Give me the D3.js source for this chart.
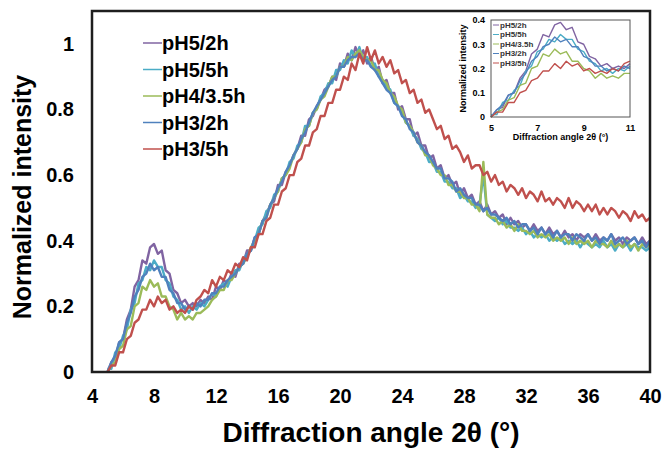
<!DOCTYPE html>
<html>
<head>
<meta charset="utf-8">
<script src="https://cdn.jsdelivr.net/npm/d3@7/dist/d3.min.js"></script>
<style>
  body { margin: 0; background: #fff; }
  text { font-family: "Liberation Sans", Arial, sans-serif; font-weight: bold; fill: #000; }
</style>
</head>
<body>
<svg id="chart" width="662" height="449"></svg>
<script>
// scan grid: 5 to 40 deg in 0.25 deg steps (one group of 4 below = one degree)
var angleStart = 5, angleStep = 0.25;

var xTicks = [4, 8, 12, 16, 20, 24, 28, 32, 36, 40];
var yTicks = [0, 0.2, 0.4, 0.6, 0.8, 1];
var insetXTicks = [5, 7, 9, 11];
var insetYTicks = [0, 0.1, 0.2, 0.3, 0.4];

var seriesNames = ["pH5/2h", "pH5/5h", "pH4/3.5h", "pH3/2h", "pH3/5h"];
var seriesColors = ["#8064A2", "#4BACC6", "#9BBB59", "#4F81BD", "#C0504D"];

var pH5_2h = [
  0.00,0.03,0.04,0.09, 0.10,0.16,0.19,0.26, 0.28,0.34,0.33,0.38, 0.39,0.36,0.37,0.31,
  0.30,0.25,0.24,0.21, 0.22,0.20,0.21,0.20, 0.22,0.21,0.23,0.22, 0.26,0.25,0.28,0.27,
  0.30,0.29,0.33,0.33, 0.37,0.37,0.41,0.42, 0.46,0.48,0.51,0.52, 0.57,0.57,0.61,0.63,
  0.66,0.68,0.72,0.72, 0.77,0.78,0.81,0.83, 0.86,0.87,0.90,0.89, 0.94,0.93,0.97,0.95,
  0.99,0.96,0.98,0.94, 0.96,0.92,0.93,0.88, 0.89,0.85,0.85,0.80, 0.81,0.77,0.77,0.72,
  0.73,0.69,0.69,0.65, 0.66,0.62,0.63,0.59, 0.60,0.57,0.58,0.54, 0.56,0.53,0.54,0.51,
  0.52,0.49,0.51,0.48, 0.49,0.47,0.48,0.45, 0.47,0.45,0.46,0.44, 0.45,0.43,0.45,0.43,
  0.44,0.42,0.44,0.42, 0.43,0.41,0.43,0.41, 0.42,0.40,0.42,0.41, 0.42,0.40,0.42,0.40,
  0.41,0.40,0.42,0.40, 0.41,0.39,0.41,0.40, 0.41,0.39,0.41,0.39, 0.40
];
var pH5_5h = [
  0.01,0.01,0.06,0.07, 0.11,0.13,0.19,0.21, 0.27,0.28,0.32,0.31, 0.34,0.32,0.32,0.28,
  0.27,0.23,0.22,0.19, 0.20,0.18,0.20,0.19, 0.21,0.20,0.22,0.24, 0.23,0.26,0.27,0.26,
  0.29,0.31,0.31,0.34, 0.36,0.37,0.40,0.44, 0.45,0.49,0.50,0.54, 0.55,0.59,0.60,0.64,
  0.65,0.69,0.70,0.75, 0.75,0.79,0.80,0.84, 0.85,0.88,0.88,0.92, 0.92,0.95,0.94,0.98,
  0.96,0.99,0.95,0.96, 0.93,0.94,0.90,0.89, 0.87,0.86,0.82,0.81, 0.79,0.76,0.75,0.72,
  0.71,0.68,0.67,0.64, 0.64,0.61,0.61,0.58, 0.58,0.56,0.56,0.53, 0.54,0.52,0.52,0.50,
  0.51,0.60,0.48,0.47, 0.46,0.47,0.45,0.46, 0.44,0.44,0.43,0.44, 0.42,0.43,0.41,0.42,
  0.41,0.42,0.40,0.41, 0.40,0.41,0.39,0.40, 0.39,0.40,0.38,0.40, 0.39,0.38,0.39,0.38,
  0.40,0.38,0.39,0.37, 0.39,0.38,0.39,0.37, 0.39,0.38,0.38,0.37, 0.38
];
var pH4_35h = [
  0.00,0.02,0.03,0.07, 0.08,0.13,0.14,0.20, 0.21,0.26,0.25,0.28, 0.26,0.27,0.23,0.23,
  0.20,0.19,0.16,0.18, 0.16,0.17,0.16,0.18, 0.18,0.19,0.20,0.22, 0.23,0.25,0.25,0.28,
  0.28,0.30,0.32,0.33, 0.35,0.38,0.40,0.42, 0.46,0.47,0.51,0.53, 0.55,0.59,0.60,0.62,
  0.66,0.68,0.70,0.74, 0.75,0.79,0.80,0.83, 0.84,0.87,0.90,0.90, 0.93,0.93,0.96,0.95,
  0.97,0.98,0.96,0.95, 0.95,0.92,0.92,0.89, 0.88,0.85,0.84,0.81, 0.80,0.76,0.75,0.73,
  0.70,0.69,0.66,0.66, 0.63,0.62,0.60,0.60, 0.57,0.57,0.55,0.55, 0.53,0.53,0.51,0.51,
  0.49,0.64,0.48,0.47, 0.47,0.45,0.46,0.44, 0.45,0.43,0.45,0.43, 0.43,0.42,0.43,0.41,
  0.42,0.41,0.42,0.40, 0.41,0.40,0.41,0.39, 0.41,0.39,0.40,0.39, 0.40,0.38,0.40,0.39,
  0.39,0.38,0.40,0.38, 0.39,0.38,0.40,0.38, 0.39,0.37,0.39,0.38, 0.39
];
var pH3_2h = [
  0.00,0.03,0.05,0.09, 0.10,0.15,0.18,0.23, 0.25,0.29,0.30,0.33, 0.31,0.32,0.29,0.29,
  0.25,0.24,0.21,0.21, 0.19,0.20,0.19,0.21, 0.20,0.22,0.22,0.24, 0.24,0.26,0.26,0.28,
  0.29,0.30,0.32,0.33, 0.36,0.37,0.41,0.42, 0.46,0.47,0.51,0.53, 0.56,0.58,0.61,0.63,
  0.66,0.68,0.71,0.73, 0.76,0.79,0.81,0.83, 0.85,0.87,0.89,0.90, 0.93,0.93,0.95,0.96,
  0.96,0.97,0.95,0.95, 0.93,0.92,0.90,0.88, 0.86,0.85,0.82,0.81, 0.78,0.77,0.74,0.73,
  0.70,0.69,0.67,0.66, 0.64,0.62,0.62,0.59, 0.59,0.58,0.55,0.56, 0.54,0.53,0.53,0.51,
  0.51,0.49,0.50,0.48, 0.48,0.47,0.46,0.47, 0.45,0.46,0.44,0.45, 0.45,0.43,0.44,0.42,
  0.44,0.42,0.43,0.41, 0.43,0.41,0.42,0.42, 0.40,0.42,0.41,0.40, 0.42,0.40,0.41,0.39,
  0.41,0.40,0.42,0.39, 0.40,0.41,0.39,0.40, 0.41,0.39,0.40,0.38, 0.40
];
var pH3_5h = [
  0.00,0.02,0.02,0.06, 0.06,0.10,0.11,0.15, 0.16,0.19,0.19,0.22, 0.20,0.23,0.21,0.22,
  0.19,0.20,0.18,0.19, 0.18,0.20,0.19,0.22, 0.23,0.25,0.24,0.28, 0.26,0.29,0.28,0.31,
  0.30,0.33,0.32,0.35, 0.34,0.38,0.38,0.42, 0.42,0.46,0.47,0.51, 0.51,0.55,0.56,0.60,
  0.60,0.64,0.65,0.69, 0.69,0.73,0.74,0.78, 0.78,0.82,0.82,0.86, 0.86,0.90,0.89,0.94,
  0.92,0.97,0.94,0.99, 0.95,0.98,0.94,0.96, 0.93,0.95,0.91,0.92, 0.88,0.89,0.85,0.86,
  0.82,0.83,0.79,0.80, 0.77,0.74,0.75,0.71, 0.72,0.68,0.69,0.67, 0.64,0.66,0.62,0.63,
  0.63,0.60,0.61,0.58, 0.60,0.57,0.58,0.55, 0.57,0.56,0.54,0.56, 0.53,0.55,0.54,0.52,
  0.55,0.52,0.53,0.51, 0.53,0.52,0.50,0.53, 0.50,0.52,0.51,0.49, 0.51,0.49,0.51,0.48,
  0.50,0.48,0.50,0.49, 0.47,0.49,0.48,0.46, 0.49,0.47,0.48,0.46, 0.47
];

var seriesValues = [pH5_2h, pH5_5h, pH4_35h, pH3_2h, pH3_5h];

var series = seriesNames.map(function(name, i) {
  return {
    name: name,
    color: seriesColors[i],
    points: seriesValues[i].map(function(v, j) { return {angle: angleStart + j * angleStep, value: v}; })
  };
});

var svg = d3.select("#chart");

// ---- main chart ----
var plot = {left: 92, right: 650, top: 11, bottom: 372};

var x = d3.scaleLinear().domain([4, 40]).range([plot.left, plot.right]);
var y = d3.scaleLinear().domain([0, 1.1]).range([plot.bottom, plot.top]);

var line = d3.line()
  .x(function(d) { return x(d.angle); })
  .y(function(d) { return y(d.value); });

svg.selectAll("path.curve")
  .data(series)
  .enter()
  .append("path")
    .attr("class", "curve")
    .attr("d", function(d) { return line(d.points); })
    .attr("fill", "none")
    .attr("stroke", function(d) { return d.color; })
    .attr("stroke-width", 2.4)
    .attr("stroke-linejoin", "round");

svg.append("rect")
  .attr("x", plot.left).attr("y", plot.top)
  .attr("width", plot.right - plot.left).attr("height", plot.bottom - plot.top)
  .attr("fill", "none")
  .attr("stroke", "#1e1e1e")
  .attr("stroke-width", 2.5);

var xAxis = svg.append("g")
  .attr("transform", "translate(0," + (plot.bottom + 14) + ")")
  .call(d3.axisBottom(x).tickValues(xTicks).tickSize(0).tickFormat(d3.format("d")));
xAxis.select(".domain").remove();
xAxis.selectAll("text")
  .attr("dy", "0.71em")
  .style("font-size", "20px")
  .style("font-family", "Liberation Sans, Arial, sans-serif")
  .style("font-weight", "bold");

var yAxis = svg.append("g")
  .attr("transform", "translate(" + (plot.left - 10) + ",0)")
  .call(d3.axisLeft(y).tickValues(yTicks).tickSize(0).tickFormat(function(d) { return d === 0 || d === 1 ? d : d.toFixed(1); }));
yAxis.select(".domain").remove();
yAxis.selectAll("text")
  .attr("x", -8)
  .style("font-size", "20px")
  .style("font-family", "Liberation Sans, Arial, sans-serif")
  .style("font-weight", "bold");

svg.append("text")
  .attr("x", (plot.left + plot.right) / 2)
  .attr("y", 442)
  .attr("text-anchor", "middle")
  .style("font-size", "28px")
  .text("Diffraction angle 2θ (°)");

svg.append("text")
  .attr("transform", "translate(31,197) rotate(-90)")
  .attr("text-anchor", "middle")
  .style("font-size", "25px")
  .text("Normalized intensity");

// legend
var legend = svg.selectAll("g.legend")
  .data(series)
  .enter()
  .append("g")
    .attr("class", "legend")
    .attr("transform", function(d, i) { return "translate(143," + (43 + i * 26.5) + ")"; });
legend.append("line")
  .attr("x1", 0).attr("x2", 19)
  .attr("stroke", function(d) { return d.color; })
  .attr("stroke-width", 1.5);
legend.append("text")
  .attr("x", 19)
  .attr("dy", "0.35em")
  .style("font-size", "20px")
  .text(function(d) { return d.name; });

// ---- inset ----
var inset = {left: 491, right: 630, top: 20, bottom: 117};
var ix = d3.scaleLinear().domain([5, 11]).range([inset.left, inset.right]);
var iy = d3.scaleLinear().domain([0, 0.4]).range([inset.bottom, inset.top]);

svg.append("rect")
  .attr("x", inset.left).attr("y", inset.top)
  .attr("width", inset.right - inset.left).attr("height", inset.bottom - inset.top)
  .attr("fill", "#fff");

var insetLine = d3.line()
  .x(function(d) { return ix(d.angle); })
  .y(function(d) { return iy(d.value); });

svg.selectAll("path.inset-curve")
  .data(series)
  .enter()
  .append("path")
    .attr("class", "inset-curve")
    .attr("d", function(d) { return insetLine(d.points.filter(function(p) { return p.angle <= 11; })); })
    .attr("fill", "none")
    .attr("stroke", function(d) { return d.color; })
    .attr("stroke-width", 1.4)
    .attr("stroke-linejoin", "round");

svg.append("rect")
  .attr("x", inset.left).attr("y", inset.top)
  .attr("width", inset.right - inset.left).attr("height", inset.bottom - inset.top)
  .attr("fill", "none")
  .attr("stroke", "#555")
  .attr("stroke-width", 1);

var ixAxis = svg.append("g")
  .attr("transform", "translate(0," + (inset.bottom + 5) + ")")
  .call(d3.axisBottom(ix).tickValues(insetXTicks).tickSize(0).tickFormat(d3.format("d")));
ixAxis.select(".domain").remove();
ixAxis.selectAll("text")
  .attr("dy", "0.71em")
  .style("font-size", "9px")
  .style("font-family", "Liberation Sans, Arial, sans-serif")
  .style("font-weight", "bold");

var iyAxis = svg.append("g")
  .attr("transform", "translate(" + (inset.left - 2) + ",0)")
  .call(d3.axisLeft(iy).tickValues(insetYTicks).tickSize(0).tickFormat(function(d) { return d === 0 ? d : d.toFixed(1); }));
iyAxis.select(".domain").remove();
iyAxis.selectAll("text")
  .attr("x", -4)
  .style("font-size", "9px")
  .style("font-family", "Liberation Sans, Arial, sans-serif")
  .style("font-weight", "bold");

svg.append("text")
  .attr("x", (inset.left + inset.right) / 2)
  .attr("y", 140)
  .attr("text-anchor", "middle")
  .style("font-size", "9px")
  .text("Diffraction angle 2θ (°)");

svg.append("text")
  .attr("transform", "translate(466," + ((inset.top + inset.bottom) / 2) + ") rotate(-90)")
  .attr("text-anchor", "middle")
  .style("font-size", "9px")
  .text("Normalized intensity");

var insetLegend = svg.selectAll("g.inset-legend")
  .data(series)
  .enter()
  .append("g")
    .attr("class", "inset-legend")
    .attr("transform", function(d, i) { return "translate(493," + (25 + i * 9.5) + ")"; });
insetLegend.append("line")
  .attr("x1", 0).attr("x2", 6)
  .attr("stroke", function(d) { return d.color; })
  .attr("stroke-width", 1);
insetLegend.append("text")
  .attr("x", 7)
  .attr("dy", "0.35em")
  .style("font-size", "8px")
  .style("fill", "#333")
  .text(function(d) { return d.name; });
</script>
</body>
</html>
